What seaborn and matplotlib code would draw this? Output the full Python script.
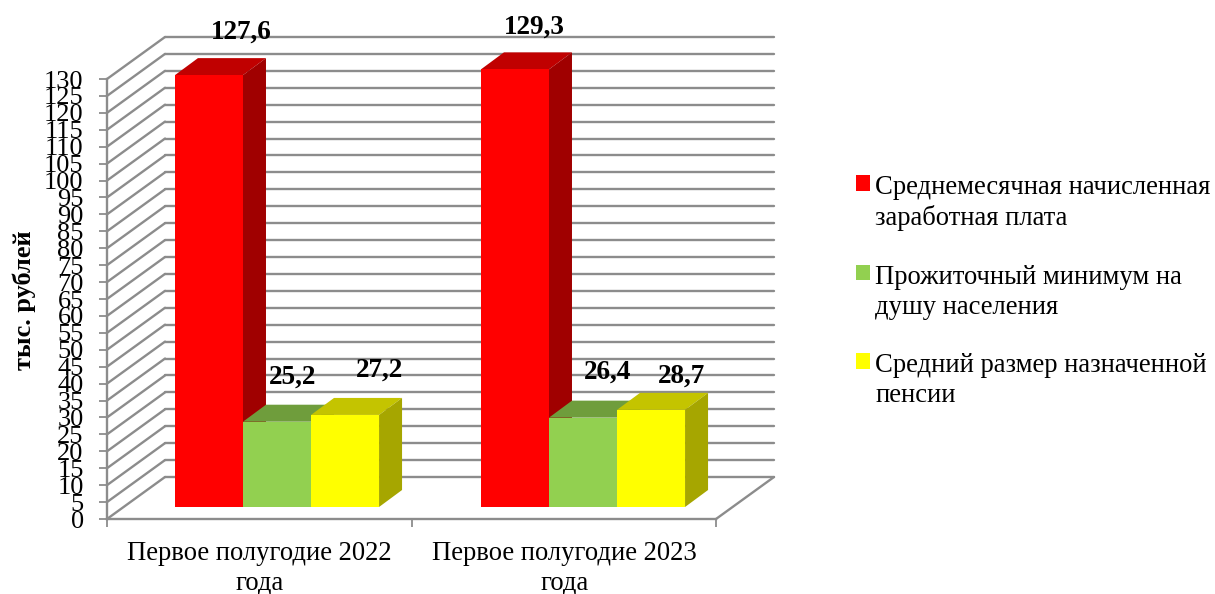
import matplotlib
matplotlib.use("Agg")
import matplotlib.pyplot as plt
from matplotlib.patches import Polygon
from matplotlib.transforms import ScaledTranslation
import pandas as pd
import seaborn as sns

# values
periods = ["Первое полугодие 2022\nгода", "Первое полугодие 2023\nгода"]
series = [
    "Среднемесячная начисленная\nзаработная плата",
    "Прожиточный минимум на\nдушу населения",
    "Средний размер назначенной\nпенсии",
]
wage = [127.6, 129.3]
minimum = [25.2, 26.4]
pension = [27.2, 28.7]
y_ticks = list(range(0, 131, 5))

# colours for front / top / side of each bar
front_colors = ["#ff0000", "#92d050", "#ffff00"]
top_colors = ["#c00000", "#6f9d3c", "#c4c400"]
side_colors = ["#a00000", "#5c8232", "#a6a600"]
grid_color = "#8c8c8c"

# label offsets from the top of each bar in pixels, placed by hand in the original
label_offsets = [[(32, 43), (19, 42)], [(16, 45), (25, 45)], [(34, 45), (30, 34)]]

df = pd.DataFrame({
    "period": periods * 3,
    "series": [series[0]] * 2 + [series[1]] * 2 + [series[2]] * 2,
    "value": wage + minimum + pension,
})

sns.set_theme(style="white")
plt.rcParams["font.family"] = ["Liberation Serif", "DejaVu Serif"]

dpi = 100
fig = plt.figure(figsize=(12.15, 5.94), dpi=dpi)
ax = fig.add_axes([107 / 1215, (594 - 519) / 594, 609 / 1215, 440 / 594])

sns.barplot(data=df, x="period", y="value", hue="series", hue_order=series,
            palette=front_colors, saturation=1, width=0.667, gap=0, linewidth=0, ax=ax)
px_x = 306
px_y = 440 / 130
x_left = -0.5
x_right = x_left + 609 / px_x
ax.set_xlim(x_left, x_right)
ax.set_ylim(0, 130)


def shifted(dx, dy):
    return ax.transData + ScaledTranslation(dx / dpi, dy / dpi, fig.dpi_scale_trans)


# walls and floor
wall = shifted(58, 42)
for t in y_ticks:
    ax.plot([x_left, x_right], [t, t], color=grid_color, lw=1.7, transform=wall, clip_on=False, zorder=1)
    ax.plot([x_left, x_left + 58 / px_x], [t, t + 42 / px_y], color=grid_color, lw=1.7, clip_on=False, zorder=1)
ax.plot([x_right, x_right + 58 / px_x], [0, 42 / px_y], color=grid_color, lw=1.7, clip_on=False, zorder=1)

# depth of the bars
bar_shift = shifted(17, 12)
depth_x = 23 / px_x
depth_y = 17 / px_y
z = 3
for s, container in enumerate(ax.containers):
    for i, bar in enumerate(container):
        x0 = bar.get_x()
        x1 = x0 + bar.get_width()
        h = bar.get_height()
        ax.add_patch(Polygon([(x0, h), (x1, h), (x1 + depth_x, h + depth_y), (x0 + depth_x, h + depth_y)],
                             facecolor=top_colors[s], lw=0, transform=bar_shift, clip_on=False, zorder=z))
        ax.add_patch(Polygon([(x1, 0), (x1, h), (x1 + depth_x, h + depth_y), (x1 + depth_x, depth_y)],
                             facecolor=side_colors[s], lw=0, transform=bar_shift, clip_on=False, zorder=z))
        bar.set_transform(bar_shift)
        bar.set_zorder(z + 0.5)
        bar.set_clip_on(False)
        ax.annotate(f"{h:.1f}".replace(".", ","), xy=(x0 + (x1 - x0) / 2, h), xycoords=bar_shift,
                    xytext=label_offsets[s][i], textcoords="offset pixels",
                    ha="center", va="center", fontsize=19.5, fontweight="bold", color="black",
                    annotation_clip=False, zorder=10)
    z += 1

for side in ["top", "right"]:
    ax.spines[side].set_visible(False)
for side in ["left", "bottom"]:
    ax.spines[side].set_color(grid_color)
    ax.spines[side].set_linewidth(1.7)
    ax.spines[side].set_zorder(2)

ax.set_yticks(y_ticks)
ax.set_xticks([x_left, x_left + 305 / px_x, x_right], minor=False)
ax.set_xticklabels(["", "", ""])
ax.tick_params(axis="both", which="major", length=5.8, width=1.3, color=grid_color,
               left=True, bottom=True, labelsize=19, labelcolor="black")
ax.tick_params(axis="y", pad=11)
for i, p in enumerate(periods):
    ax.text(x_left + (i + 0.5) * 305 / px_x, -6.6, p, ha="center", va="top", fontsize=19.2,
            color="black", linespacing=1.2)
ax.set_xlabel("")
ax.set_ylabel("")
fig.text(24 / 1215, 1 - 300 / 594, "тыс. рублей", rotation=90, ha="center", va="center",
         fontsize=19, fontweight="bold", color="black")

# legend
handles, labels = ax.get_legend_handles_labels()
ax.get_legend().remove()
leg = fig.legend(handles, labels, loc="upper left", bbox_to_anchor=(856 / 1215, 1 - 175 / 594),
                 frameon=False, fontsize=19.2, labelspacing=1.25, handlelength=0.53, handleheight=0.53,
                 handletextpad=0.2, borderpad=0, borderaxespad=0, labelcolor="black")
for t in leg.get_texts():
    t.set_linespacing(1.27)
for row in leg._legend_handle_box.get_children()[0].get_children():
    row.align = "top"

fig.savefig("out.png", dpi=dpi, facecolor="white")
